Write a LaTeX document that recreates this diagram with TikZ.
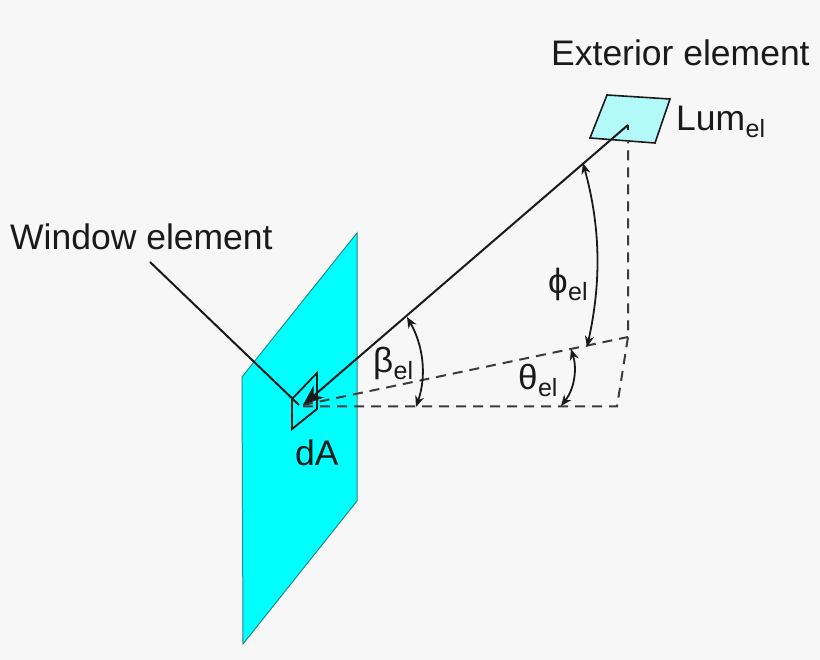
\documentclass[tikz,border=0pt]{standalone}
\usepackage{fontspec}
\setmainfont{Liberation Sans}
\usetikzlibrary{arrows.meta}
\definecolor{bgc}{HTML}{F7F7F7}
\definecolor{ink}{HTML}{1A1A1A}
\definecolor{cyanpane}{HTML}{00FFFF}
\definecolor{palecyan}{HTML}{B3F9F9}
\definecolor{paneedge}{HTML}{2A8A8A}
\tikzset{
  lbl/.style={font=\fontsize{35.5}{40}\selectfont, text=ink, inner sep=0pt},
  grk/.style={font=\fontsize{35}{40}\selectfont, text=ink, inner sep=0pt},
  elsub/.style={font=\fontsize{25}{28}\selectfont, text=ink, inner sep=0pt},
  solidline/.style={draw=ink, line width=2pt},
  dashline/.style={draw=ink!85!bgc, line width=2pt, dash pattern=on 10pt off 7pt},
  anglearc/.style={draw=ink, line width=1.8pt, {Stealth[length=11pt,width=9pt]}-{Stealth[length=11pt,width=9pt]}}
}
\begin{document}
\begin{tikzpicture}[x=1pt,y=-1pt]
\useasboundingbox (0,0) rectangle (820,660);
\fill[bgc] (0,0) rectangle (820,660);
% panes
\filldraw[fill=cyanpane, draw=paneedge, line width=1pt] (357,233) -- (357,501) -- (243,644) -- (242,377) -- cycle;
\filldraw[fill=palecyan, draw=ink, line width=1.6pt] (607,95) -- (670,99) -- (655,143) -- (590,138) -- cycle;
\draw[draw=ink, line width=1.8pt] (292,399) -- (317,373) -- (317,409) -- (292,429) -- cycle;
\coordinate (src) at (628,125);
\coordinate (win) at (303,405);
\coordinate (leader) at (150,262);
\coordinate (leaderEnd) at (299,405);
\coordinate (foot) at (628,337);
\coordinate (corner) at (617,406.5);
\coordinate (under) at (628,142);
% dashed
\draw[dashline] (win) -- (foot);
\draw[dashline] (303,406.5) -- (corner) -- (foot) -- (under);
% solid
\draw[solidline] (leader) -- (leaderEnd);
\draw[solidline, -{Stealth[length=21pt,width=16pt]}] (src) -- (win);
\draw[solidline] (src) -- ++(0,5);
% arcs
\coordinate (phiA) at (583,163);
\coordinate (phiB) at (587,347);
\coordinate (betaA) at (407,317);
\coordinate (betaB) at (416,407);
\coordinate (thetaA) at (571,349);
\coordinate (thetaB) at (561,406);
\draw[anglearc] (phiA) .. controls (600,225) and (602,280) .. (phiB);
\draw[anglearc] (betaA) .. controls (423,345) and (427,375) .. (betaB);
\draw[anglearc] (thetaA) .. controls (577,368) and (575,388) .. (thetaB);
% labels
\node[lbl, anchor=base west] (ext) at (551,65.5) {Exterior element};
\node[lbl, anchor=base west] (lum) at (676,130.5) {Lum};
\node[elsub, anchor=base west] (lumel) at (lum.base east) [yshift=-7pt] {el};
\node[lbl, anchor=base west] (winlbl) at (10,250) {Window element};
\node[lbl, anchor=base west] (da) at (295,465) {dA};
\node[grk, anchor=base west] (phi) at (548,294) {ϕ};
\node[elsub, anchor=base west] (phiel) at (phi.base east) [yshift=-7pt] {el};
\node[grk, anchor=base west] (beta) at (373,373) {β};
\node[elsub, anchor=base west] (betael) at (beta.base east) [yshift=-7pt] {el};
\node[grk, anchor=base west] (theta) at (518,390) {θ};
\node[elsub, anchor=base west] (thetael) at (theta.base east) [yshift=-7pt] {el};
\end{tikzpicture}
\end{document}
